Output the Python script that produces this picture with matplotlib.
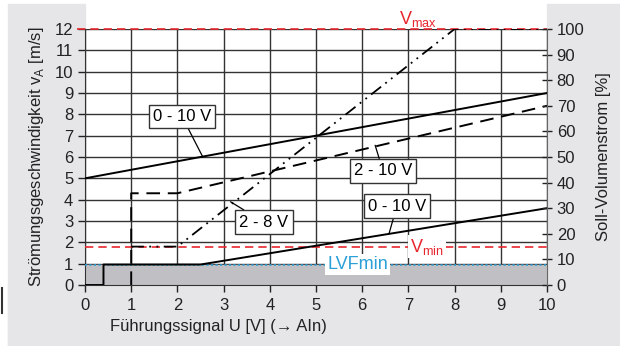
import matplotlib.pyplot as plt
from matplotlib.patches import Rectangle

plt.rcParams['font.family'] = ['Liberation Sans', 'DejaVu Sans']

# curves (x in V, y in m/s)
upper_010_x = [0, 10]
upper_010_y = [5, 9]
v210_x = [1, 1, 2, 10]
v210_y = [0, 4.3, 4.3, 8.4]
v28_x = [1, 2, 8, 10]
v28_y = [1.8, 1.8, 12, 12]
lower_010_x = [0, 0.4, 0.4, 2.5, 10]
lower_010_y = [0, 0, 0.96, 0.96, 3.6]

v_max = 12
v_min = 1.8
lvf_min = 0.96

red = '#e8262d'
blue = '#2a9fd8'
dark = '#222222'
fs = 12

fig = plt.figure(figsize=(6.2, 3.46), dpi=100)
W, H = 620, 346

def px(x0, y0, x1, y1, color):
    fig.patches.append(Rectangle((x0 / W, 1 - y1 / H), (x1 - x0) / W, (y1 - y0) / H,
                                 transform=fig.transFigure, color=color, zorder=-5))

gray = '#e6e6e8'
px(8, 4, 85, 346, gray)
px(8, 285, 547, 346, gray)
px(547, 4, 620, 346, gray)

ax = fig.add_axes([85 / W, 1 - 285 / H, 462 / W, 256 / H])
ax.set_xlim(0, 10)
ax.set_ylim(0, 12)
ax.set_xticks(range(0, 11))
ax.set_yticks(range(0, 13))
ax.grid(True, color='#333333', lw=1.0)
ax.set_axisbelow(True)
for s in ['top', 'right']:
    ax.spines[s].set_visible(False)
ax.spines['left'].set_color('#333333')
ax.spines['bottom'].set_color('#333333')
ax.tick_params(labelsize=fs, colors=dark, length=5, width=1)
ax.tick_params(axis='x', pad=4)

ax.fill_between([0, 10], 0, lvf_min, color='#c0c0c4', zorder=1.5)

ax.plot([-0.17, 10], [v_max, v_max], color=red, lw=1.2, dashes=(5, 3), clip_on=False, zorder=3)
ax.axhline(v_min, color=red, lw=1.2, dashes=(5, 3), zorder=3)
ax.axhline(lvf_min, color=blue, lw=1.2, dashes=(1.2, 1.5), zorder=3)

ax.plot(upper_010_x, upper_010_y, color='black', lw=1.4, zorder=4)
ax.plot(v210_x, v210_y, color='black', lw=1.4, dashes=(7, 4), zorder=4)
ax.plot(v28_x, v28_y, color='black', lw=1.3, dashes=(7, 3, 1, 3, 1, 3), zorder=4)
ax.plot(lower_010_x, lower_010_y, color='black', lw=1.4, zorder=4)

box = dict(boxstyle='square,pad=0.25', fc='white', ec='#333333', lw=1)
lead = dict(arrowstyle='-', color='black', lw=0.9, shrinkA=0, shrinkB=0)
ax.annotate('0 - 10 V', xy=(2.55, 6.0), xytext=(2.1, 7.9), fontsize=fs, ha='center', va='center',
            bbox=box, arrowprops=lead, zorder=6)
ax.annotate('2 - 10 V', xy=(6.28, 6.55), xytext=(6.45, 5.35), fontsize=fs, ha='center', va='center',
            bbox=box, arrowprops=lead, zorder=6)
ax.annotate('2 - 8 V', xy=(3.15, 3.9), xytext=(3.87, 2.95), fontsize=fs, ha='center', va='center',
            bbox=box, arrowprops=lead, zorder=6)
ax.annotate('0 - 10 V', xy=(6.58, 2.4), xytext=(6.75, 3.7), fontsize=fs, ha='center', va='center',
            bbox=box, arrowprops=lead, zorder=6)

ax.text(7.2, 12.45, r'V$_{\mathregular{max}}$', color=red, fontsize=13, ha='center', va='center', zorder=6)
ax.text(7.4, 1.8, r'V$_{\mathregular{min}}$', color=red, fontsize=13, ha='center', va='center', zorder=6,
        bbox=dict(boxstyle='square,pad=0.1', fc='white', ec='none'))
ax.text(5.9, 0.95, 'LVFmin', color=blue, fontsize=13, ha='center', va='center', zorder=6,
        bbox=dict(boxstyle='square,pad=0.1', fc='white', ec='none'))

ax.set_ylabel(r'Strömungsgeschwindigkeit v$_{\mathregular{A}}$ [m/s]', fontsize=fs, color=dark, labelpad=6)
fig.text(110 / W, 1 - 326 / H, 'Führungssignal U [V] (→ AIn)', fontsize=fs, color=dark,
         ha='left', va='center')

ax2 = ax.twinx()
ax2.set_ylim(0, 100)
ax2.set_yticks(range(0, 101, 10))
for s in ['top', 'left', 'bottom']:
    ax2.spines[s].set_visible(False)
ax2.spines['right'].set_color('#666666')
ax2.tick_params(labelsize=fs, colors=dark, direction='inout', length=7, width=1)
ax2.set_ylabel('Soll-Volumenstrom [%]', fontsize=fs, color=dark, labelpad=8)

fig.add_artist(plt.Line2D([1.5 / W, 1.5 / W], [1 - 288 / H, 1 - 313 / H], color='#333333', lw=1.5,
                          transform=fig.transFigure))

fig.savefig('out.png', dpi=100)
